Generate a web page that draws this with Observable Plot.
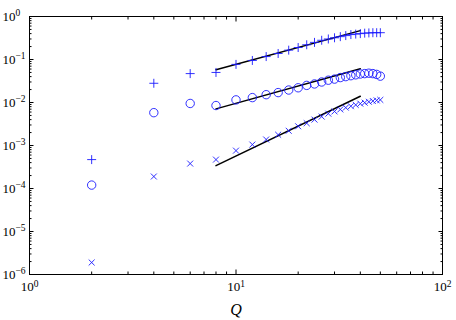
<!DOCTYPE html>
<html><head><meta charset="utf-8">
<script src="https://cdn.jsdelivr.net/npm/d3@7"></script>
<script src="https://cdn.jsdelivr.net/npm/@observablehq/plot@0.6"></script>
<style>
body{margin:0;background:#fff}
#chart svg{display:block}
</style></head><body><div id="chart"></div><script>
// ---- data ----
const qValues      = [2, 4, 6, 8, 10, 12, 14, 16, 18, 20, 22, 24, 26, 28, 30, 32, 34, 36, 38, 40, 42, 44, 46, 48, 50];
const plusValues   = [4.7e-4, 0.028, 0.047, 0.050, 0.077, 0.095, 0.117, 0.138, 0.165, 0.19, 0.22, 0.25, 0.28, 0.30, 0.32, 0.34, 0.36, 0.38, 0.39, 0.40, 0.41, 0.415, 0.42, 0.42, 0.42];
const circleValues = [1.2e-4, 0.0058, 0.0095, 0.0085, 0.0115, 0.013, 0.0152, 0.017, 0.0195, 0.022, 0.025, 0.027, 0.030, 0.033, 0.035, 0.038, 0.040, 0.042, 0.044, 0.046, 0.047, 0.048, 0.047, 0.045, 0.041];
const crossValues  = [1.9e-6, 1.9e-4, 3.8e-4, 4.7e-4, 7.6e-4, 1.05e-3, 1.38e-3, 1.78e-3, 2.2e-3, 2.8e-3, 3.3e-3, 4.0e-3, 4.7e-3, 5.5e-3, 6.2e-3, 6.9e-3, 7.6e-3, 8.2e-3, 8.8e-3, 9.4e-3, 9.9e-3, 0.0104, 0.0108, 0.0112, 0.0115];
const fitQ      = [8, 40];
const fitPlus   = [0.058, 0.47];
const fitCircle = [0.0071, 0.061];
const fitCross  = [3.4e-4, 0.014];
const xMajorTicks = [1, 10, 100];
const yMajorTicks = [1e-6, 1e-5, 1e-4, 1e-3, 1e-2, 1e-1, 1];
const xLabel = "Q";

// minor ticks at 2..9 × each decade
const minorOf = (majors) => majors.slice(0, -1).flatMap(m => d3.range(2, 10).map(k => k * m));
const xMinorTicks = minorOf(xMajorTicks);
const yMinorTicks = minorOf(yMajorTicks);

const series = (vals) => qValues.map((q, i) => ({q, v: vals[i]}));
const fitRows = (vals, s) => fitQ.map((q, i) => ({q, v: vals[i], s}));
const fits = [...fitRows(fitPlus, "plus"), ...fitRows(fitCircle, "circle"), ...fitRows(fitCross, "times")];

const expFmt = d => "10^" + Math.round(Math.log10(d));
const blue = "#1a1aff";
const tickOpts = {tickFormat: () => "", stroke: "black", label: null};

const plot = Plot.plot({
  width: 456, height: 320,
  marginLeft: 29, marginRight: 14, marginTop: 16, marginBottom: 46,
  x: {type: "log", domain: [1, 100]},
  y: {type: "log", domain: [1e-6, 1]},
  style: {fontFamily: "'Liberation Serif', 'Times New Roman', serif", fontSize: "13px", background: "white", color: "black"},
  marks: [
    Plot.frame({stroke: "black", strokeWidth: 1}),
    // inward ticks, all four sides
    Plot.axisX(xMinorTicks, {anchor: "bottom", tickSize: -2.5, ...tickOpts}),
    Plot.axisX(xMinorTicks, {anchor: "top", tickSize: -2.5, ...tickOpts}),
    Plot.axisX(xMajorTicks, {anchor: "bottom", tickSize: -4.5, ...tickOpts}),
    Plot.axisX(xMajorTicks, {anchor: "top", tickSize: -4.5, ...tickOpts}),
    Plot.axisY(yMinorTicks, {anchor: "left", tickSize: -2.5, ...tickOpts}),
    Plot.axisY(yMinorTicks, {anchor: "right", tickSize: -2.5, ...tickOpts}),
    Plot.axisY(yMajorTicks, {anchor: "left", tickSize: -4.5, ...tickOpts}),
    Plot.axisY(yMajorTicks, {anchor: "right", tickSize: -4.5, ...tickOpts}),
    // labels
    Plot.axisX(xMajorTicks, {anchor: "bottom", tickSize: 0, tickPadding: 7.5, tickFormat: expFmt,
      label: xLabel, labelAnchor: "center", labelOffset: 40, labelArrow: "none"}),
    Plot.axisY(yMajorTicks, {anchor: "left", tickSize: 0, tickPadding: 0, tickFormat: expFmt,
      textAnchor: "start", dx: -27, label: null}),
    // fit lines
    Plot.line(fits, {x: "q", y: "v", z: "s", stroke: "black", strokeWidth: 1.5}),
    // markers
    Plot.dot(series(plusValues),   {x: "q", y: "v", symbol: "plus",   r: 3.0, stroke: blue, strokeWidth: 0.9, fill: "none"}),
    Plot.dot(series(circleValues), {x: "q", y: "v", symbol: "circle", r: 4.2, stroke: blue, strokeWidth: 0.9, fill: "none"}),
    Plot.dot(series(crossValues),  {x: "q", y: "v", symbol: "times",  r: 2.8, stroke: blue, strokeWidth: 0.9, fill: "none"})
  ]
});
document.getElementById("chart").append(plot);

// superscript exponents in tick labels
const svg = d3.select(plot);
svg.selectAll('g[aria-label="x-axis tick label"] text, g[aria-label="y-axis tick label"] text').each(function() {
  const t = d3.select(this);
  const s = t.text();
  if (!s.startsWith("10^")) return;
  const e = s.slice(3).replace("-", "\u2212");
  t.text("");
  t.append("tspan").text("10");
  t.append("tspan").attr("dy", "-0.45em").attr("font-size", "9.5px").text(e);
});
svg.selectAll('g[aria-label="x-axis label"] text').attr("font-style", "italic").attr("font-size", "16px");
</script></body></html>
